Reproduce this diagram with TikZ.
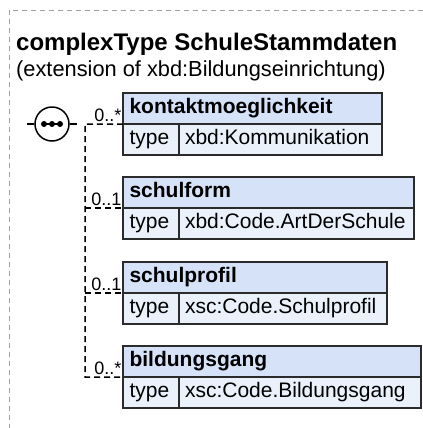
\documentclass[tikz,border=0pt]{standalone}
\usepackage{fontspec}
\setmainfont{Liberation Sans}
\definecolor{hdrfill}{HTML}{D5E2F7}
\definecolor{rowfill}{HTML}{EAF1FB}
\definecolor{boxline}{HTML}{2B2B2B}
\definecolor{framegrey}{HTML}{A0A0A0}
\begin{document}
\begin{tikzpicture}[x=1bp,y=-1bp,
  boxbase/.style={draw=boxline, line width=1.5bp, anchor=north west, outer sep=0pt,
    minimum height=31bp, inner ysep=0pt, text height=15bp, text depth=5bp, align=left},
  hdr/.style={boxbase, fill=hdrfill, inner xsep=6.5bp, text width=#1-13bp,
    font=\fontsize{21bp}{24bp}\selectfont\bfseries},
  typecell/.style={boxbase, fill=rowfill, inner xsep=6.5bp, text width=43bp,
    font=\fontsize{21bp}{24bp}\selectfont},
  valcell/.style={boxbase, fill=rowfill, inner xsep=6bp, text width=#1-12bp,
    font=\fontsize{21bp}{24bp}\selectfont},
  conn/.style={draw=black, line width=1.5bp, dash pattern=on 6bp off 4bp},
  lbl/.style={anchor=base east, inner sep=0pt, font=\fontsize{18bp}{20bp}\selectfont},
  frame/.style={draw=framegrey, line width=1bp, dash pattern=on 5bp off 4bp},
  seqcircle/.style={draw=black, line width=1.5bp, circle, minimum size=34bp, inner sep=0pt, fill=white}]
\useasboundingbox (0,0) rectangle (423,428);
% outer frame
\coordinate (fr) at (423,10);
\coordinate (fc) at (9,10);
\coordinate (fb) at (9,428);
\draw[frame] (fr) -- (fc) -- (fb);
% title
\node[anchor=base west, inner sep=0pt, font=\fontsize{24bp}{28bp}\selectfont\bfseries] (title) at (16,50) {complexType SchuleStammdaten};
\node[anchor=base west, inner sep=0pt, font=\fontsize{21.8bp}{25bp}\selectfont] (subtitle) at (16,76) {(extension of xbd:Bildungseinrichtung)};
% boxes
\node[hdr=259bp] (b1h) at (123,93) {kontaktmoeglichkeit};
\node[typecell] (b1t) at (b1h.south west) {type};
\node[valcell=203bp] (b1v) at (b1t.north east) {xbd:Kommunikation};
\node[hdr=291bp] (b2h) at (123,177) {schulform};
\node[typecell] (b2t) at (b2h.south west) {type};
\node[valcell=235bp] (b2v) at (b2t.north east) {xbd:Code.ArtDerSchule};
\node[hdr=264bp] (b3h) at (123,262) {schulprofil};
\node[typecell] (b3t) at (b3h.south west) {type};
\node[valcell=208bp] (b3v) at (b3t.north east) {xsc:Code.Schulprofil};
\node[hdr=298bp] (b4h) at (123,346) {bildungsgang};
\node[typecell] (b4t) at (b4h.south west) {type};
\node[valcell=242bp] (b4v) at (b4t.north east) {xsc:Code.Bildungsgang};
% sequence compositor
\node[seqcircle] (seq) at (52,124) {};
\coordinate (inL) at (27,124);
\coordinate (outR) at (77,124);
\draw[line width=1.5bp] (inL) -- (seq.west);
\draw[line width=1.5bp] (seq.east) -- (outR);
\draw[line width=1.5bp] (44,124) -- (60,124);
\fill (44,124) circle (3bp) (52,124) circle (3bp) (60,124) circle (3bp);
% spine
\coordinate (s1) at (85,124);
\coordinate (s4) at (85,377);
\draw[conn] (b1h.south west) -- (s1) -- (s4) -- (b4h.south west);
\draw[conn] (b2h.south west -| s1) -- (b2h.south west);
\draw[conn] (b3h.south west -| s1) -- (b3h.south west);
% labels
\node[lbl] (l1) at ([xshift=-1.5bp,yshift=3bp]b1h.south west) {0..*};
\node[lbl] (l2) at ([xshift=-1.5bp,yshift=3bp]b2h.south west) {0..1};
\node[lbl] (l3) at ([xshift=-1.5bp,yshift=3bp]b3h.south west) {0..1};
\node[lbl] (l4) at ([xshift=-1.5bp,yshift=3bp]b4h.south west) {0..*};
\end{tikzpicture}
\end{document}
